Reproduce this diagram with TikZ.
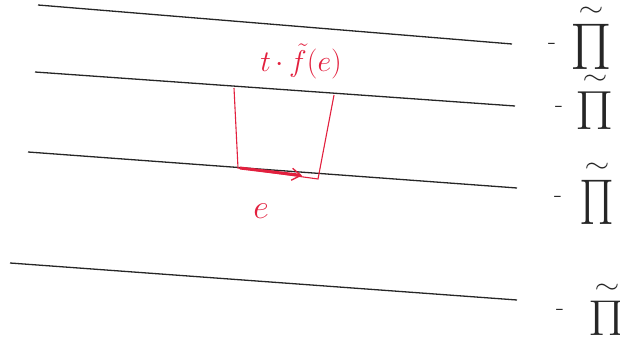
\documentclass[tikz,border=0pt]{standalone}
\usepackage{fix-cm}
\usepackage{graphicx}
\usetikzlibrary{arrows.meta}
\definecolor{pen}{RGB}{226,32,62}
\newsavebox\pibox
\newcommand{\tpi}[2]{\sbox\pibox{\scalebox{#1}[#2]{\fontsize{48}{48}\selectfont$\Pi$}}\usebox\pibox\llap{\makebox[\wd\pibox][c]{\raisebox{\dimexpr\ht\pibox+8pt\relax}{\scalebox{1}[0.8]{\fontsize{32}{32}\selectfont$\sim$}}}}}
\begin{document}
\begin{tikzpicture}[x=1pt,y=-1pt,
  hline/.style={line width=1.3pt, black!85},
  redline/.style={line width=1.1pt, pen},
  pilabel/.style={anchor=south, inner sep=0pt, black!85},
  dashlabel/.style={inner sep=0pt, black!85, font=\fontsize{26}{26}\selectfont},
  redtext/.style={inner sep=0pt, text=pen}]
\useasboundingbox (0,0) rectangle (620,344);
% horizontal lines
\coordinate (a1) at (38,5);   \coordinate (b1) at (512,44);
\coordinate (a2) at (35,72);  \coordinate (b2) at (515,106);
\coordinate (a3) at (28,152); \coordinate (b3) at (517,188);
\coordinate (a4) at (10,263); \coordinate (b4) at (517,300);
\draw[hline] (a1) -- (b1);
\draw[hline] (a2) -- (b2);
\draw[hline] (a3) -- (b3);
\draw[hline] (a4) -- (b4);
% right labels
\node[dashlabel] (d1) at (552,46) {-};
\node[dashlabel] (d2) at (559,109) {-};
\node[dashlabel] (d3) at (558,199) {-};
\node[dashlabel] (d4) at (560,312) {-};
\node[pilabel] (g1) at (591,70) {\tpi{1.25}{1.38}};
\node[pilabel] (g2) at (595,130) {\tpi{1.15}{1.15}};
\node[pilabel] (g3) at (597,225) {\tpi{1.05}{1.35}};
\node[pilabel] (g4) at (607,336) {\tpi{1.1}{1.05}};
% red trapezoid
\coordinate (p1) at (234,88);
\coordinate (p2) at (238,168);
\coordinate (p3) at (318,179);
\coordinate (p4) at (334,95);
\draw[redline] (p1) -- (p2) -- (p3) -- (p4);
% red arrow along e
\coordinate (e1) at (240,168);
\coordinate (e2) at (302,175.5);
\draw[pen, line width=3pt, -{Straight Barb[length=9pt,width=12pt,line width=1.3pt]}] (e1) -- (e2);
% labels
\node[redtext] (le) at (261,211) {\fontsize{34}{34}\selectfont$e$};
\node[redtext] (lt) at (301,61) {\fontsize{30}{30}\selectfont$t\,{\cdot}\,\tilde{f}(e)$};
\end{tikzpicture}
\end{document}
